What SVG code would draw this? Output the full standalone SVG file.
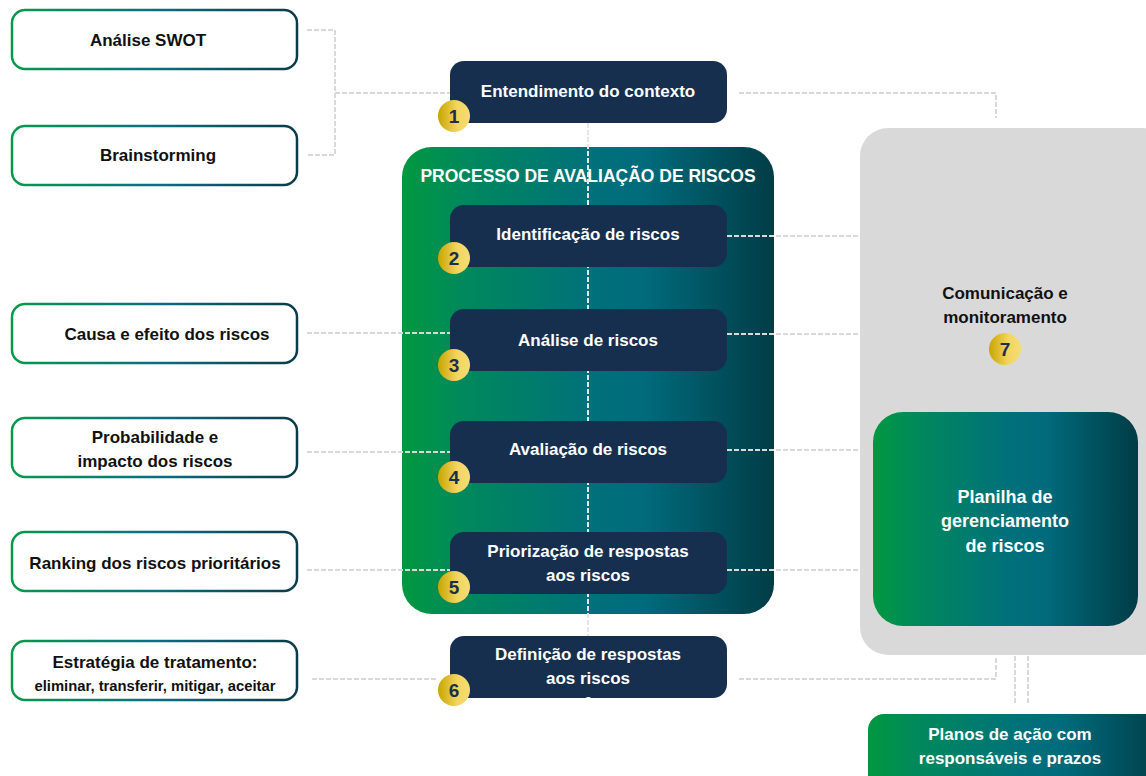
<svg xmlns="http://www.w3.org/2000/svg" width="1146" height="776" viewBox="0 0 1146 776">
<defs>
<linearGradient id="gStroke" x1="0" y1="0" x2="1" y2="0">
<stop offset="0" stop-color="#07994a"/>
<stop offset="0.5" stop-color="#0a6f80"/>
<stop offset="1" stop-color="#0c3c49"/>
</linearGradient>
<linearGradient id="gGreen" x1="0" y1="0" x2="1" y2="0">
<stop offset="0" stop-color="#00983f"/>
<stop offset="0.15" stop-color="#008a5a"/>
<stop offset="0.5" stop-color="#00717a"/>
<stop offset="0.65" stop-color="#016b7c"/>
<stop offset="1" stop-color="#013c46"/>
</linearGradient>
<linearGradient id="gGold" x1="0" y1="0" x2="1" y2="0">
<stop offset="0" stop-color="#c7a500"/>
<stop offset="0.6" stop-color="#f3d55f"/>
<stop offset="1" stop-color="#f5dc74"/>
</linearGradient>
</defs>
<style>
.lb{fill:#fff;stroke:url(#gStroke);stroke-width:2.5}
.lt{font-family:"Liberation Sans",Arial,sans-serif;font-weight:bold;font-size:17px;fill:#111;text-anchor:middle}
.db{fill:#172f4e}
.dt{font-family:"Liberation Sans",Arial,sans-serif;font-weight:bold;font-size:17px;fill:#fff;text-anchor:middle}
.num{font-family:"Liberation Sans",Arial,sans-serif;font-weight:bold;font-size:19px;fill:#1b2f4d;text-anchor:middle}
.cn{fill:none;stroke:#d9d9d9;stroke-width:2;stroke-dasharray:5 2}
.cw{fill:none;stroke:#e6e6e6;stroke-width:2;stroke-dasharray:5 2}
</style>

<g id="comunicacao">
<rect x="860" y="128" width="310" height="527" rx="28" fill="#d9d9d9"/>
<text class="lt" x="1005" y="299">Comunicação e</text>
<text class="lt" x="1005" y="323">monitoramento</text>
<circle cx="1005" cy="349" r="16" fill="url(#gGold)"/>
<text class="num" x="1005" y="356">7</text>
</g>

<g id="processo">
<rect x="402" y="147" width="372" height="467" rx="30" fill="url(#gGreen)"/>
<text x="588" y="182" font-family="'Liberation Sans',Arial,sans-serif" font-weight="bold" font-size="17.5" fill="#fff" text-anchor="middle">PROCESSO DE AVALIAÇÃO DE RISCOS</text>
</g>

<g id="connectors">
<path class="cn" d="M307 30 H335 V155 H307 M335 93 H450"/>
<path class="cn" d="M307 333 H450"/>
<path class="cn" d="M307 452 H450"/>
<path class="cn" d="M307 570 H450"/>
<path class="cn" d="M312 679 H437"/>
<path class="cw" d="M588 123 V636"/>
<path class="cn" d="M739 93 H996 V118"/>
<path class="cn" d="M727 236 H860"/>
<path class="cn" d="M727 334 H860"/>
<path class="cn" d="M727 450 H860"/>
<path class="cn" d="M727 570 H860"/>
<path class="cn" d="M739 679 H996 V656"/>
<path class="cn" d="M1015 656 V705 M1028 656 V705"/>
</g>

<g id="planilha">
<rect x="873" y="412" width="265" height="214" rx="30" fill="url(#gGreen)"/>
<text class="dt" x="1005" y="503" style="font-size:18px">Planilha de</text>
<text class="dt" x="1005" y="527" style="font-size:18px">gerenciamento</text>
<text class="dt" x="1005" y="552" style="font-size:18px">de riscos</text>
</g>

<g id="planos">
<rect x="868" y="714" width="300" height="80" rx="16" fill="url(#gGreen)"/>
<text class="dt" x="1010" y="740">Planos de ação com</text>
<text class="dt" x="1010" y="764">responsáveis e prazos</text>
</g>

<g id="swot"><rect class="lb" x="12" y="10" width="285" height="59" rx="13"/><text class="lt" x="148" y="46">Análise SWOT</text></g>
<g id="brainstorming"><rect class="lb" x="12" y="126" width="285" height="59" rx="13"/><text class="lt" x="158" y="161">Brainstorming</text></g>
<g id="causa"><rect class="lb" x="12" y="304" width="285" height="59" rx="13"/><text class="lt" x="167" y="340">Causa e efeito dos riscos</text></g>
<g id="probabilidade"><rect class="lb" x="12" y="418" width="285" height="59" rx="13"/><text class="lt" x="155" y="443">Probabilidade e</text><text class="lt" x="155" y="467">impacto dos riscos</text></g>
<g id="ranking"><rect class="lb" x="12" y="532" width="285" height="59" rx="13"/><text class="lt" x="155" y="569">Ranking dos riscos prioritários</text></g>
<g id="estrategia"><rect class="lb" x="12" y="641" width="285" height="59" rx="13"/><text class="lt" x="155" y="668">Estratégia de tratamento:</text><text class="lt" x="155" y="691" style="font-size:14.8px">eliminar, transferir, mitigar, aceitar</text></g>

<g id="n1"><rect class="db" x="450" y="61" width="277" height="62" rx="14"/><text class="dt" x="588" y="97">Entendimento do contexto</text><circle cx="454" cy="116" r="16" fill="url(#gGold)"/><text class="num" x="454" y="123">1</text></g>
<g id="n2"><rect class="db" x="450" y="205" width="277" height="62" rx="14"/><text class="dt" x="588" y="240">Identificação de riscos</text><circle cx="454" cy="258" r="16" fill="url(#gGold)"/><text class="num" x="454" y="265">2</text></g>
<g id="n3"><rect class="db" x="450" y="309" width="277" height="62" rx="14"/><text class="dt" x="588" y="346">Análise de riscos</text><circle cx="454" cy="365" r="16" fill="url(#gGold)"/><text class="num" x="454" y="372">3</text></g>
<g id="n4"><rect class="db" x="450" y="421" width="277" height="62" rx="14"/><text class="dt" x="588" y="455">Avaliação de riscos</text><circle cx="454" cy="477" r="16" fill="url(#gGold)"/><text class="num" x="454" y="484">4</text></g>
<g id="n5"><rect class="db" x="450" y="532" width="277" height="62" rx="14"/><text class="dt" x="588" y="557">Priorização de respostas</text><text class="dt" x="588" y="581">aos riscos</text><circle cx="454" cy="587" r="16" fill="url(#gGold)"/><text class="num" x="454" y="594">5</text></g>
<g id="n6"><rect class="db" x="450" y="636" width="277" height="62" rx="14"/><text class="dt" x="588" y="660">Definição de respostas</text><text class="dt" x="588" y="684">aos riscos</text><text class="dt" x="588" y="709">6</text><circle cx="454" cy="690" r="16" fill="url(#gGold)"/><text class="num" x="454" y="697">6</text></g>
</svg>
